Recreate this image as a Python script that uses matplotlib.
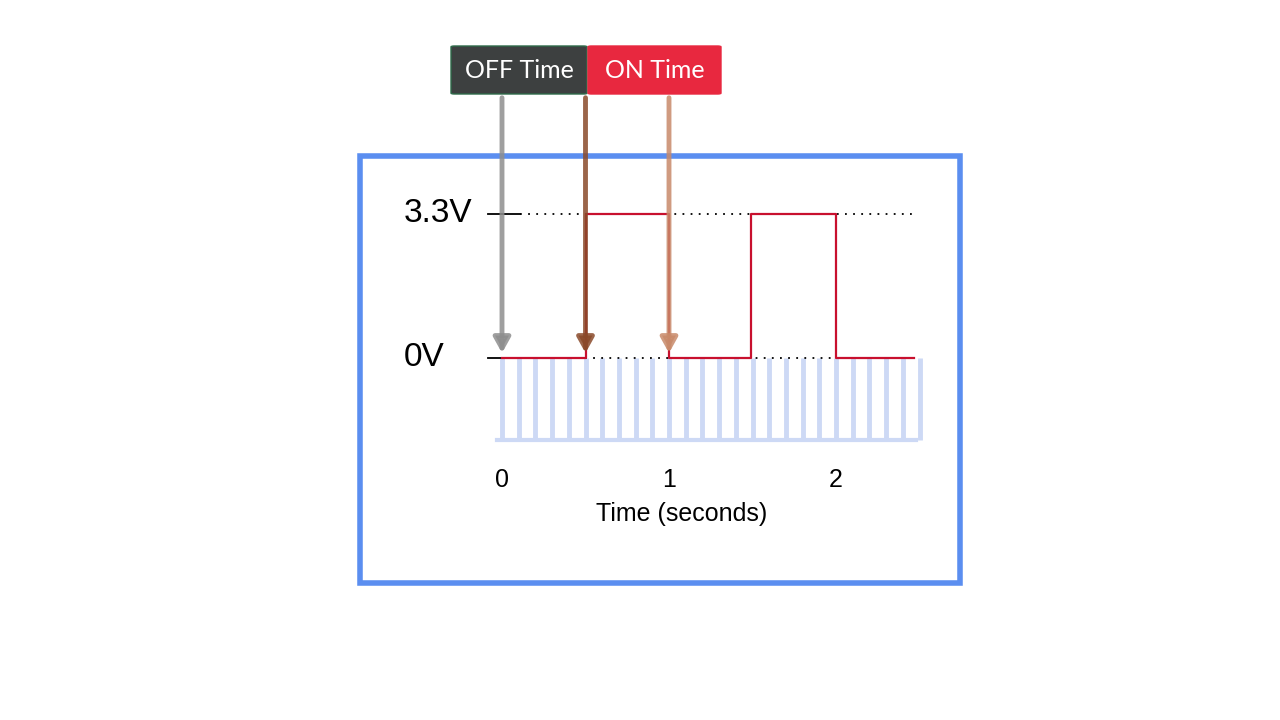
import numpy as np
import matplotlib.pyplot as plt
from matplotlib.patches import Rectangle, FancyBboxPatch

# square wave: time (s) and level (V)
edges_t = [0.0, 0.5, 0.5, 1.0, 1.0, 1.49, 1.49, 2.0, 2.0, 2.47]
edges_v = [0.0, 0.0, 3.3, 3.3, 0.0, 0.0, 3.3, 3.3, 0.0, 0.0]
sample_t = np.round(np.arange(0, 26) * 0.1, 2)   # sampling stripes every 0.1 s
tick_t = [0, 1, 2]
levels = [0.0, 3.3]
level_labels = ["0V", "3.3V"]
arrow_t = [0.0, 0.5, 1.0]
arrow_colors = ["#8e8e8e", "#8a4a2a", "#c88a6a"]

# pixel layout: 0 s at x=502, 1 s = 167 px; 0 V at y=358, 3.3 V at y=214
fig = plt.figure(figsize=(12.8, 7.2), dpi=100)
ax = fig.add_axes([0, 0, 1, 1])
pxs, pxv = 167.0, 144.0 / 3.3
ax.set_xlim(-502 / pxs, (1280 - 502) / pxs)
ax.set_ylim((358 - 720) / pxv, 358 / pxv)
ax.axis("off")

def X(px): return (px - 502) / pxs
def Y(py): return (358 - py) / pxv

# frame
ax.add_patch(Rectangle((X(360), Y(583)), X(960) - X(360), Y(156) - Y(583),
                       fill=False, ec="#5b8ef0", lw=4))

# stripes
for t in sample_t:
    ax.plot([t, t], [Y(440), 0], color="#cdd9f5", lw=3.5, solid_capstyle="butt", zorder=1)
ax.plot([X(497), X(916)], [Y(440), Y(440)], color="#cdd9f5", lw=3, zorder=1)

# dotted reference lines and ticks
for v, lab in zip(levels, level_labels):
    ax.plot([X(520), X(912)], [v, v], color="black", ls=(0, (1, 3.5)), lw=1.3, zorder=2)
    ax.plot([X(488), X(520)], [v, v], color="black", lw=1.3, zorder=2)
    ax.text(X(404), v, lab, fontsize=24, ha="left", va="center", family="Liberation Sans")

ax.plot(edges_t, edges_v, color="#c8102e", lw=1.6, zorder=3)

for t in tick_t:
    ax.text(t, Y(480), str(t), fontsize=18, ha="center", va="center", family="Liberation Sans")
ax.text(X(682), Y(514), "Time (seconds)", fontsize=18, ha="center", va="center",
        family="Liberation Sans")

# arrows from the labels
starts = [Y(95), Y(95), Y(95)]
for t, c, s in zip(arrow_t, arrow_colors, starts):
    ax.annotate("", xy=(t, 0.05), xytext=(t, s),
                arrowprops=dict(arrowstyle="-|>,head_width=0.5,head_length=0.9",
                                color=c, lw=3.5, alpha=0.85), zorder=4)

# label boxes
for x0, x1, col, txt in [(451, 587, "#3d4040", "OFF Time"), (588, 721, "#e8283f", "ON Time")]:
    ax.add_patch(FancyBboxPatch((X(x0), Y(94)), X(x1) - X(x0), Y(46) - Y(94),
                                boxstyle="round,pad=0,rounding_size=0.02",
                                fc=col, ec="#2e6b4a" if col == "#3d4040" else col, lw=1, zorder=5))
    ax.text((X(x0) + X(x1)) / 2, Y(70), txt, color="white", fontsize=18,
            ha="center", va="center", family="Lato", zorder=6)

fig.savefig("out.png", dpi=100)
